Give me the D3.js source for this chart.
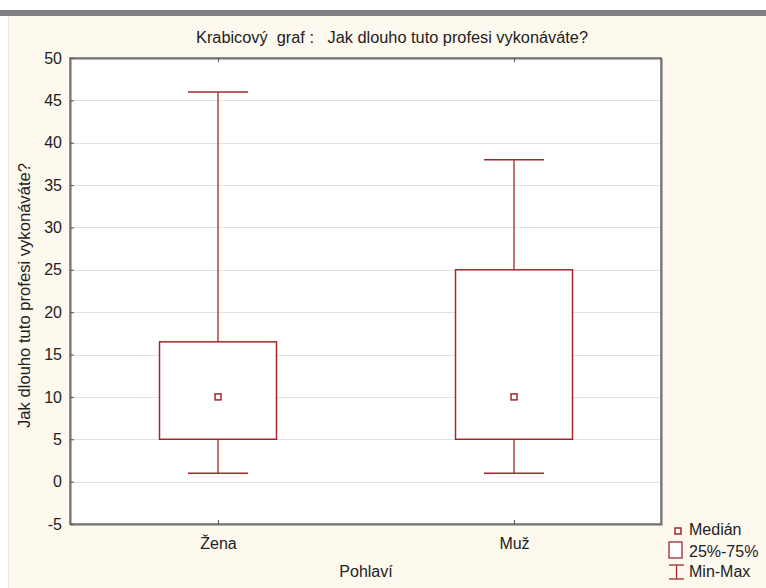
<!DOCTYPE html>
<html>
<head>
<meta charset="utf-8">
<script src="https://cdn.jsdelivr.net/npm/d3@7"></script>
<style>
  body { margin: 0; background: #fff; }
  text { font-family: "Liberation Sans", Arial, sans-serif; fill: #222; }
</style>
</head>
<body>
<script>
"use strict";
// data
const categories = ["Žena", "Muž"];
const mins = [1, 1];
const q1s = [5, 5];
const medians = [10, 10];
const q3s = [16.5, 25];
const maxs = [46, 38];
const yTicks = [-5, 0, 5, 10, 15, 20, 25, 30, 35, 40, 45, 50];
const legendLabels = ["Medián", "25%-75%", "Min-Max"];

const W = 766, H = 588;
const plot = { left: 70, right: 661, top: 58, bottom: 524 };
const red = "#a3282c";

const svg = d3.select("body").append("svg").attr("width", W).attr("height", H);

// window background
svg.append("rect").attr("x", 0).attr("y", 0).attr("width", W).attr("height", H).attr("fill", "#fff");
svg.append("rect").attr("x", 8).attr("y", 16).attr("width", W - 8).attr("height", H - 16).attr("fill", "#fef9ef");
svg.append("rect").attr("x", 0).attr("y", 10).attr("width", W).attr("height", 6).attr("fill", "#7d7f84");
svg.append("line").attr("x1", 8.5).attr("x2", 8.5).attr("y1", 16).attr("y2", H).attr("stroke", "#ece6da");

// plot area
svg.append("rect")
    .attr("x", plot.left).attr("y", plot.top)
    .attr("width", plot.right - plot.left).attr("height", plot.bottom - plot.top)
    .attr("fill", "#fff");

const scaleY = d3.scaleLinear().domain([-5, 50]).range([plot.bottom, plot.top]);
const scaleX = d3.scalePoint().domain(categories).range([218, 514]);

// grid
svg.append("g").selectAll("line")
    .data(yTicks.filter(d => d > -5 && d < 50))
    .enter().append("line")
    .attr("x1", plot.left).attr("x2", plot.right)
    .attr("y1", d => Math.round(scaleY(d)) + 0.5).attr("y2", d => Math.round(scaleY(d)) + 0.5)
    .attr("stroke", "#e2e2e2").attr("stroke-width", 1);

// frame shadow + frame
svg.append("rect")
    .attr("x", plot.left + 1).attr("y", plot.top + 1)
    .attr("width", plot.right - plot.left).attr("height", plot.bottom - plot.top)
    .attr("fill", "none").attr("stroke", "#9a9a9a").attr("stroke-width", 1.5);
svg.append("rect")
    .attr("x", plot.left).attr("y", plot.top)
    .attr("width", plot.right - plot.left).attr("height", plot.bottom - plot.top)
    .attr("fill", "none").attr("stroke", "#555").attr("stroke-width", 1.3);

// y axis
const yAxis = d3.axisLeft(scaleY).tickValues(yTicks).tickSize(-4).tickPadding(8)
    .tickFormat(d => String(d));
const gy = svg.append("g").attr("transform", `translate(${plot.left},0)`).call(yAxis);
gy.select(".domain").remove();
gy.selectAll("line").attr("stroke", "#555");
gy.selectAll("text").style("font-size", "16px").style("font-family", "'Liberation Sans', Arial, sans-serif")
    .attr("fill", "#222");

// x axis (bottom + top ticks)
const xAxis = d3.axisBottom(scaleX).tickSize(-4).tickPadding(14);
const gx = svg.append("g").attr("transform", `translate(0,${plot.bottom})`).call(xAxis);
gx.select(".domain").remove();
gx.selectAll("line").attr("stroke", "#555");
gx.selectAll("text").style("font-size", "16px").style("font-family", "'Liberation Sans', Arial, sans-serif")
    .attr("fill", "#222");
const gxt = svg.append("g").attr("transform", `translate(0,${plot.top})`)
    .call(d3.axisTop(scaleX).tickSize(-4).tickFormat(""));
gxt.select(".domain").remove();
gxt.selectAll("line").attr("stroke", "#555");

// boxes
const boxW = 117, capW = 60, medS = 6;
const boxes = categories.map((c, i) => ({
    c, min: mins[i], q1: q1s[i], med: medians[i], q3: q3s[i], max: maxs[i]
}));
const g = svg.append("g");
boxes.forEach(b => {
    const cx = scaleX(b.c);
    g.append("line").attr("x1", cx).attr("x2", cx)
        .attr("y1", scaleY(b.max)).attr("y2", scaleY(b.q3)).attr("stroke", red).attr("stroke-width", 1.3);
    g.append("line").attr("x1", cx).attr("x2", cx)
        .attr("y1", scaleY(b.q1)).attr("y2", scaleY(b.min)).attr("stroke", red).attr("stroke-width", 1.3);
    [b.max, b.min].forEach(v => {
        g.append("line").attr("x1", cx - capW / 2).attr("x2", cx + capW / 2)
            .attr("y1", scaleY(v)).attr("y2", scaleY(v)).attr("stroke", red).attr("stroke-width", 1.5);
    });
    g.append("rect")
        .attr("x", cx - boxW / 2).attr("y", scaleY(b.q3))
        .attr("width", boxW).attr("height", scaleY(b.q1) - scaleY(b.q3))
        .attr("fill", "#fff").attr("stroke", red).attr("stroke-width", 1.5);
    g.append("rect")
        .attr("x", cx - medS / 2).attr("y", scaleY(b.med) - medS / 2)
        .attr("width", medS).attr("height", medS)
        .attr("fill", "#fff").attr("stroke", red).attr("stroke-width", 1.5);
});

// titles
svg.append("text").attr("x", 196).attr("y", 43)
    .attr("textLength", 392).attr("lengthAdjust", "spacingAndGlyphs")
    .style("white-space", "pre")
    .style("font-size", "16px").text("Krabicový  graf :   Jak dlouho tuto profesi vykonáváte?");
svg.append("text").attr("x", 366).attr("y", 577).attr("text-anchor", "middle")
    .style("font-size", "16px").text("Pohlaví");
svg.append("text").attr("transform", "translate(30,428) rotate(-90)")
    .attr("textLength", 265).attr("lengthAdjust", "spacingAndGlyphs")
    .style("font-size", "17px").text("Jak dlouho tuto profesi vykonáváte?");

// legend
const lg = svg.append("g");
lg.append("rect").attr("x", 675).attr("y", 528).attr("width", 6).attr("height", 6)
    .attr("fill", "#fff").attr("stroke", red).attr("stroke-width", 1.5);
lg.append("rect").attr("x", 669).attr("y", 542).attr("width", 13).attr("height", 16)
    .attr("fill", "#fff").attr("stroke", red).attr("stroke-width", 1.3);
lg.append("line").attr("x1", 669).attr("x2", 684).attr("y1", 565).attr("y2", 565).attr("stroke", red).attr("stroke-width", 1.3);
lg.append("line").attr("x1", 676.5).attr("x2", 676.5).attr("y1", 565).attr("y2", 579).attr("stroke", red).attr("stroke-width", 1.3);
lg.append("line").attr("x1", 669).attr("x2", 684).attr("y1", 579).attr("y2", 579).attr("stroke", red).attr("stroke-width", 1.3);
lg.selectAll("text.leg").data(legendLabels).enter().append("text")
    .attr("class", "leg")
    .attr("x", 689).attr("y", (d, i) => [535, 557, 577][i])
    .style("font-size", "16px").text(d => d);
</script>
</body>
</html>
